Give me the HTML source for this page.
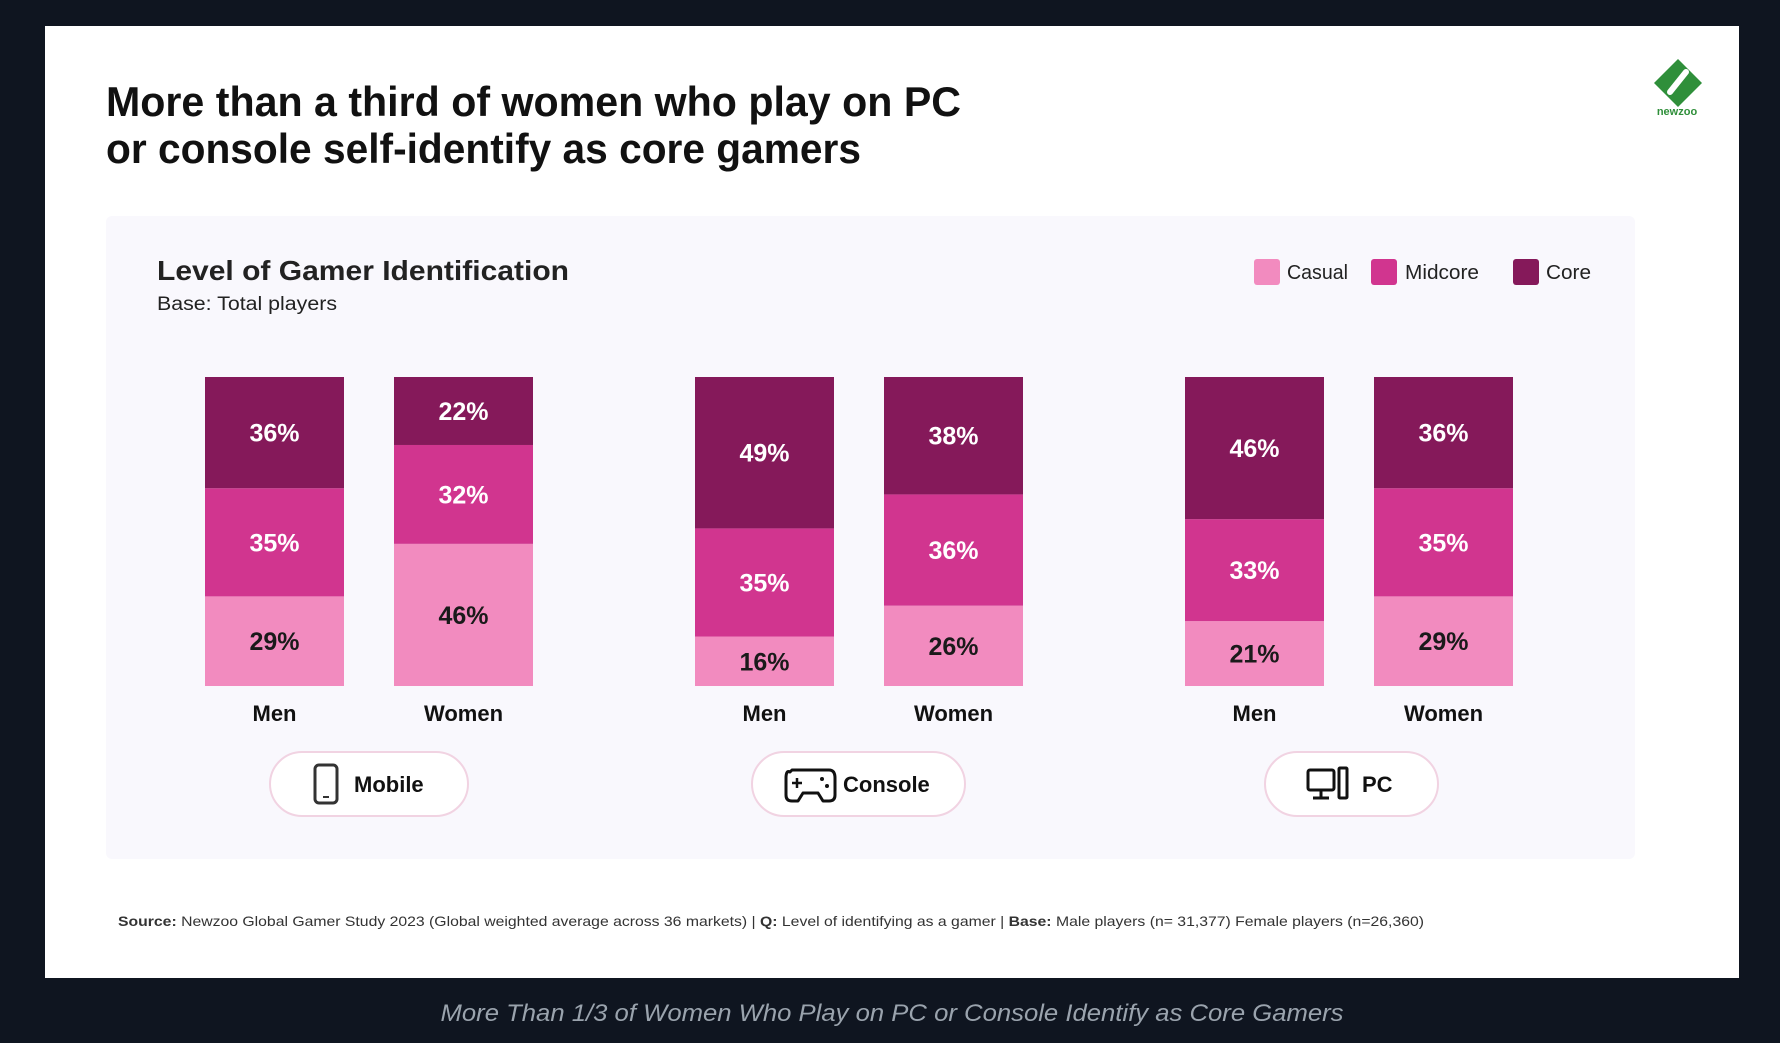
<!DOCTYPE html>
<html><head><meta charset="utf-8"><style>
html,body{margin:0;padding:0;background:#0f1520;}
svg{display:block;font-family:"Liberation Sans",sans-serif;}
</style></head><body>
<svg width="1780" height="1043" viewBox="0 0 1780 1043">
<rect x="0" y="0" width="1780" height="1043" fill="#0f1520"/>
<rect x="45" y="26" width="1694" height="952" fill="#ffffff"/>
<text x="106" y="116" font-size="42" font-weight="bold" fill="#111" textLength="855" lengthAdjust="spacingAndGlyphs">More than a third of women who play on PC</text>
<text x="106" y="163" font-size="42" font-weight="bold" fill="#111" textLength="755" lengthAdjust="spacingAndGlyphs">or console self-identify as core gamers</text>
<g>
<polygon points="1678,59 1702,83 1678,107 1654,83" fill="#2f8f3a"/>
<path d="M1670,92 L1686,72" stroke="#ffffff" stroke-width="6" stroke-linecap="round"/>
<text x="1677" y="115" font-size="11" font-weight="bold" fill="#2f8f3a" text-anchor="middle">newzoo</text>
</g>
<rect x="106" y="216" width="1529" height="643" rx="6" fill="#f9f8fd"/>
<text x="157" y="280" font-size="28" font-weight="bold" fill="#222" textLength="412" lengthAdjust="spacingAndGlyphs">Level of Gamer Identification</text>
<text x="157" y="310" font-size="19" fill="#222" textLength="180" lengthAdjust="spacingAndGlyphs">Base: Total players</text>
<g>
<g><rect x="1254" y="259" width="26" height="26" rx="3" fill="#f28bbf"/><text x="1287" y="279" font-size="20" fill="#222" textLength="61" lengthAdjust="spacingAndGlyphs">Casual</text></g>
<g><rect x="1371" y="259" width="26" height="26" rx="3" fill="#d1358f"/><text x="1405" y="279" font-size="20" fill="#222" textLength="74" lengthAdjust="spacingAndGlyphs">Midcore</text></g>
<g><rect x="1513" y="259" width="26" height="26" rx="3" fill="#85195a"/><text x="1546" y="279" font-size="20" fill="#222" textLength="45" lengthAdjust="spacingAndGlyphs">Core</text></g>
</g>
<g id="bars"></g>
<g>
<rect x="270" y="752" width="198" height="64" rx="32" fill="#fff" stroke="#f1d3e2" stroke-width="2"/>
<rect x="315" y="765" width="22" height="38" rx="4" fill="none" stroke="#333" stroke-width="3"/>
<line x1="323" y1="797" x2="329" y2="797" stroke="#333" stroke-width="2"/>
<text x="354" y="792" font-size="22" font-weight="bold" fill="#111">Mobile</text>
</g>
<g>
<rect x="752" y="752" width="213" height="64" rx="32" fill="#fff" stroke="#f1d3e2" stroke-width="2"/>
<path d="M790,772 Q786,770 786,778 L786,795 Q786,801 792,801 L798,801 L803,793 L818,793 L823,801 L829,801 Q835,801 835,795 L835,778 Q835,770 829,770 L792,770 Z" fill="none" stroke="#111" stroke-width="3" stroke-linejoin="round"/>
<path d="M797,778 v10 M792,783 h10" stroke="#111" stroke-width="2.5"/>
<circle cx="822" cy="779" r="2" fill="#111"/><circle cx="827" cy="786" r="2" fill="#111"/>
<text x="843" y="792" font-size="22" font-weight="bold" fill="#111">Console</text>
</g>
<g>
<rect x="1265" y="752" width="173" height="64" rx="32" fill="#fff" stroke="#f1d3e2" stroke-width="2"/>
<rect x="1308" y="770" width="26" height="20" rx="2" fill="none" stroke="#111" stroke-width="3"/>
<path d="M1321,790 v7 M1313,798 h16" stroke="#111" stroke-width="3"/>
<rect x="1339" y="768" width="8" height="30" rx="1" fill="none" stroke="#111" stroke-width="3"/>
<text x="1362" y="792" font-size="22" font-weight="bold" fill="#111">PC</text>
</g>
<text x="118" y="926" font-size="14" fill="#333" textLength="1306" lengthAdjust="spacingAndGlyphs"><tspan font-weight="bold">Source:</tspan> Newzoo Global Gamer Study 2023 (Global weighted average across 36 markets)  |  <tspan font-weight="bold">Q:</tspan> Level of identifying as a gamer  |  <tspan font-weight="bold">Base:</tspan> Male players (n= 31,377) Female players (n=26,360)</text>
<text x="892" y="1021" font-size="24" font-style="italic" fill="#9aa3ad" text-anchor="middle" textLength="903" lengthAdjust="spacingAndGlyphs">More Than 1/3 of Women Who Play on PC or Console Identify as Core Gamers</text>
</svg>
<script>
const platforms = ["Mobile", "Console", "PC"];
const genders = ["Men", "Women"];
const casualValues = [29, 46, 16, 26, 21, 29];
const midcoreValues = [35, 32, 35, 36, 33, 35];
const coreValues = [36, 22, 49, 38, 46, 36];

const NS = "http://www.w3.org/2000/svg";
const g = document.getElementById("bars");
const barTop = 377, barBottom = 686, barW = 139;
const groupStart = [205, 695, 1185], pairGap = 189;
function yScale(v){ return barBottom - (v/100)*(barBottom-barTop); }
function xPos(i){ return groupStart[Math.floor(i/2)] + (i%2)*pairGap; }
const series = [
  {name:"casual", vals:casualValues, color:"#f28bbf", text:"#1a1a1a"},
  {name:"midcore", vals:midcoreValues, color:"#d1358f", text:"#ffffff"},
  {name:"core", vals:coreValues, color:"#85195a", text:"#ffffff"}
];
for (let i = 0; i < casualValues.length; i++) {
  const x = xPos(i);
  let cum = 0;
  const tot = casualValues[i] + midcoreValues[i] + coreValues[i];
  series.forEach(s => {
    const v = s.vals[i] * 100 / tot;
    const y0 = yScale(cum), y1 = yScale(cum + v);
    const r = document.createElementNS(NS, "rect");
    r.setAttribute("x", x); r.setAttribute("y", y1);
    r.setAttribute("width", barW); r.setAttribute("height", y0 - y1);
    r.setAttribute("fill", s.color);
    
    
    g.appendChild(r);
    const t = document.createElementNS(NS, "text");
    t.setAttribute("x", x + barW/2); t.setAttribute("y", (y0 + y1)/2 + 9);
    t.setAttribute("text-anchor", "middle"); t.setAttribute("font-size", "25");
    t.setAttribute("font-weight", "bold"); t.setAttribute("fill", s.text);
    t.textContent = s.vals[i] + "%";
    
    
    g.appendChild(t);
    cum += v;
  });
  const lbl = document.createElementNS(NS, "text");
  lbl.setAttribute("x", x + barW/2); lbl.setAttribute("y", 721);
  lbl.setAttribute("text-anchor", "middle"); lbl.setAttribute("font-size", "22");
  lbl.setAttribute("font-weight", "bold"); lbl.setAttribute("fill", "#111");
  lbl.textContent = genders[i % 2];
  
  
  g.appendChild(lbl);
}
</script>
</body></html>
